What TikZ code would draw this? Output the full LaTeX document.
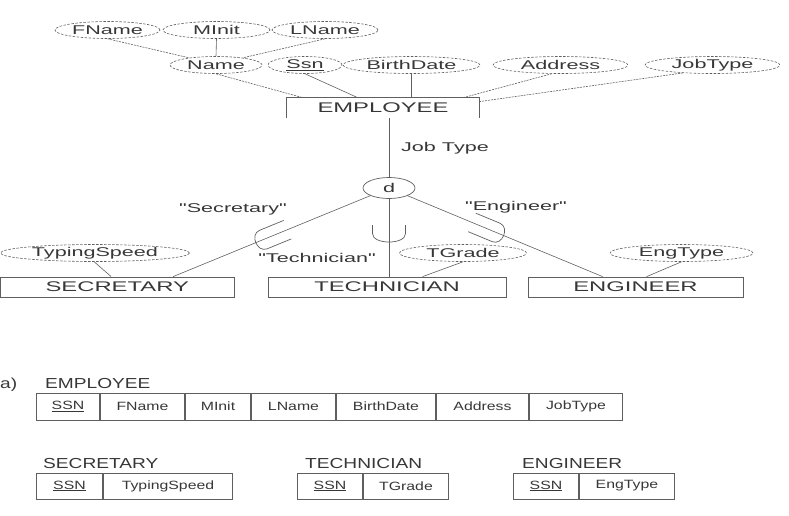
\documentclass[tikz,border=0pt]{standalone}
\usepackage{fontspec}
\setmainfont{Liberation Sans}
\newfontfamily\erfont[FakeStretch=1.7]{Liberation Sans}
\newfontfamily\relfont[FakeStretch=1.32]{Liberation Sans}
\usetikzlibrary{shapes.geometric,calc}
\definecolor{ink}{RGB}{55,55,55}
\definecolor{edge}{RGB}{95,95,95}
\tikzset{
  attr/.style={ellipse, draw=edge, dash pattern=on 2.5pt off 1.5pt, line width=0.6pt, inner sep=0pt, minimum height=17pt, text=ink, font=\erfont\fontsize{12.7}{14}\selectfont},
  ent/.style={rectangle, draw=edge, line width=0.8pt, inner sep=0pt, minimum height=20pt, text=ink, font=\erfont\fontsize{14}{16}\selectfont},
  lbl/.style={text=ink, inner sep=0pt, font=\erfont\fontsize{12.7}{14}\selectfont},
  conn/.style={draw=edge, line width=0.6pt},
  dconn/.style={conn, dash pattern=on 2pt off 1pt},
  cell/.style={rectangle, draw=edge, line width=1pt, inner sep=0pt, anchor=west, text=ink, font=\relfont\fontsize{12}{14}\selectfont},
  tname/.style={anchor=base west, inner sep=0pt, text=ink, font=\relfont\fontsize{14.5}{16}\selectfont},
  usym/.pic={\draw[edge, line width=0.7pt] (8.5,16.5) -- (0,16.5) .. controls (-11.33,16.5) and (-11.33,-16.5) .. (0,-16.5) -- (8.5,-16.5);},
  uslant/.pic={\draw[edge, line width=0.7pt] (17,10) -- (-9,10) .. controls (-20,10) and (-20,-10) .. (-9,-10) -- (17,-10);}
}
\begin{document}
\begin{tikzpicture}[x=1pt,y=1pt]
\useasboundingbox (0,0) rectangle (789,-515);
% ---- ER diagram: attributes of EMPLOYEE
\node[attr, minimum width=105pt] (fname) at (107.5,-30) {FName};
\node[attr, minimum width=107pt] (minit) at (216.5,-30) {MInit};
\node[attr, minimum width=106pt] (lname) at (325,-30) {LName};
\node[attr, minimum width=92pt] (name) at (216,-65) {Name};
\node[attr, minimum width=74pt] (ssn) at (305,-65) {\underline{Ssn}};
\node[attr, minimum width=137pt] (bdate) at (411.5,-65) {BirthDate};
\node[attr, minimum width=135pt] (addr) at (560.5,-65) {Address};
\node[attr, minimum width=135pt] (jobt) at (712.5,-65) {JobType};
% EMPLOYEE entity (three visible sides)
\node[ent, draw=none, minimum width=192pt] (emp) at (383,-108) {EMPLOYEE};
\draw[conn, line width=0.8pt] (emp.south west) |- (emp.north east) -- (emp.south east);
% attribute connectors
\draw[dconn] (fname.south) -- (name.165);
\draw[conn] (minit.south) -- (name.north);
\draw[dconn] (lname.south) -- (name.15);
\draw[dconn] (name.south) -- ([xshift=16pt]emp.north west);
\draw[conn] (ssn.south) -- ([xshift=71pt]emp.north west);
\draw[conn] (bdate.south) -- (bdate.south |- emp.north);
\draw[dconn] (addr.225) -- ([xshift=-16pt]emp.north east);
\draw[dconn] (jobt.195) -- ([yshift=-4pt]emp.north east);
% specialization circle
\node[ellipse, draw=edge, line width=0.7pt, minimum width=52pt, minimum height=21pt, inner sep=0pt, text=ink, font=\erfont\fontsize{12.7}{14}\selectfont] (d) at (389,-188) {d};
\node[lbl] (jt) at (445,-148) {Job Type};
\draw[conn] (d |- emp.south) -- (d);
% subclasses
\node[ent, minimum width=233.5pt] (sec) at (117.25,-287) {SECRETARY};
\node[ent, minimum width=238pt] (tech) at (387,-287) {TECHNICIAN};
\node[ent, minimum width=215pt] (eng) at (635.5,-287) {ENGINEER};
\node[attr, minimum width=189pt] (tspeed) at (95,-253) {TypingSpeed};
\node[attr, minimum width=127pt] (tgrade) at (463,-253) {TGrade};
\node[attr, minimum width=143pt] (engt) at (681.5,-253) {EngType};
\node[lbl] (lsec) at (233,-209) {"Secretary"};
\node[lbl] (ltech) at (317,-258) {"Technician"};
\node[lbl] (leng) at (516,-207) {"Engineer"};
\draw[conn] ([xshift=173pt]sec.north west) -- (d) pic[pos=0.5, sloped, allow upside down] {uslant};
\draw[conn] (d |- tech.north) -- (d) pic[pos=0.554, sloped, allow upside down] {usym};
\draw[conn] ([xshift=75pt]eng.north west) -- (d) pic[pos=0.589, sloped, allow upside down] {uslant};
\draw[conn] (tspeed.265) -- ([xshift=111pt]sec.north west);
\draw[conn] (tgrade.south) -- ([xshift=155pt]tech.north west);
\draw[conn] (engt.south) -- ([xshift=119pt]eng.north west);
% ---- relational schema
\node[tname] (la) at (0,-388) {a)};
\node[tname] (temp) at (45,-388) {EMPLOYEE};
\node[cell, minimum width=63pt, minimum height=27pt] (e1) at (36,-406.5) {\underline{SSN}};
\node[cell, minimum width=84pt, minimum height=27pt] (e2) at (e1.east) {FName};
\node[cell, minimum width=65pt, minimum height=27pt] (e3) at (e2.east) {MInit};
\node[cell, minimum width=84pt, minimum height=27pt] (e4) at (e3.east) {LName};
\node[cell, minimum width=99pt, minimum height=27pt] (e5) at (e4.east) {BirthDate};
\node[cell, minimum width=92pt, minimum height=27pt] (e6) at (e5.east) {Address};
\node[cell, minimum width=93pt, minimum height=27pt] (e7) at (e6.east) {JobType};
\node[tname] (tsec) at (43,-468) {SECRETARY};
\node[cell, minimum width=66pt, minimum height=26pt] (s1) at (36,-486) {\underline{SSN}};
\node[cell, minimum width=129pt, minimum height=26pt] (s2) at (s1.east) {TypingSpeed};
\node[tname] (ttech) at (305,-468) {TECHNICIAN};
\node[cell, minimum width=65pt, minimum height=26pt] (t1) at (297,-486) {\underline{SSN}};
\node[cell, minimum width=85pt, minimum height=26pt] (t2) at (t1.east) {TGrade};
\node[tname] (teng) at (522,-468) {ENGINEER};
\node[cell, minimum width=65pt, minimum height=26pt] (g1) at (513,-486) {\underline{SSN}};
\node[cell, minimum width=95pt, minimum height=26pt] (g2) at (g1.east) {EngType};
\end{tikzpicture}
\end{document}
